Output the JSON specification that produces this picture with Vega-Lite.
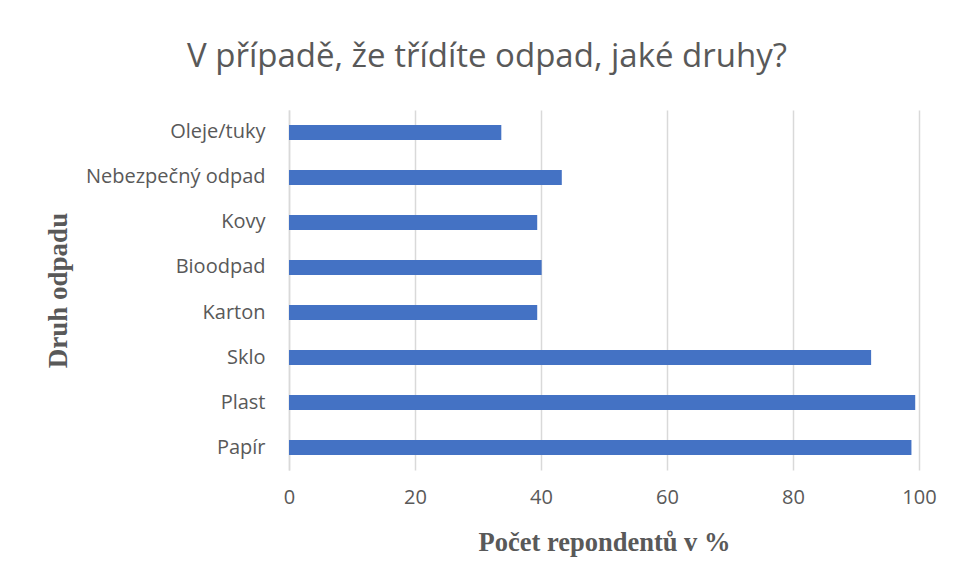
{
  "$schema": "https://vega.github.io/schema/vega-lite/v6.json",
  "width": 630,
  "height": 360,
  "autosize": {"type": "none"},
  "padding": {"left": 289, "top": 110, "right": 35, "bottom": 111},
  "background": "white",
  "title": {
    "text": "V případě, že třídíte odpad, jaké druhy?",
    "font": "Open Sans",
    "fontSize": 33,
    "fontWeight": "normal",
    "color": "#595959",
    "anchor": "middle",
    "dx": -117,
    "offset": 36
  },
  "data": {
    "values": [
      {"druh": "Oleje/tuky", "pct": 33.7},
      {"druh": "Nebezpečný odpad", "pct": 43.3},
      {"druh": "Kovy", "pct": 39.4},
      {"druh": "Bioodpad", "pct": 40.1},
      {"druh": "Karton", "pct": 39.4},
      {"druh": "Sklo", "pct": 92.4},
      {"druh": "Plast", "pct": 99.4},
      {"druh": "Papír", "pct": 98.8}
    ]
  },
  "mark": {"type": "bar", "color": "#4472C4"},
  "encoding": {
    "y": {
      "field": "druh",
      "type": "nominal",
      "sort": null,
      "scale": {"paddingInner": 0.667, "paddingOuter": 0.333},
      "axis": {
        "title": "Druh odpadu",
        "titleFont": "Liberation Serif",
        "titleFontSize": 27,
        "titleFontWeight": "bold",
        "titleColor": "#595959",
        "titleX": -231,
        "titleY": 180,
        "titleAlign": "center",
        "titleBaseline": "middle",
        "labelFont": "Open Sans",
        "labelFontSize": 20,
        "labelColor": "#595959",
        "labelPadding": 24,
        "ticks": false,
        "domain": true,
        "domainColor": "#d9d9d9",
        "domainWidth": 1.5,
        "grid": false
      }
    },
    "x": {
      "field": "pct",
      "type": "quantitative",
      "scale": {"domain": [0, 100], "nice": false},
      "axis": {
        "title": "Počet repondentů v %",
        "titleFont": "Liberation Serif",
        "titleFontSize": 26.5,
        "titleFontWeight": "bold",
        "titleColor": "#595959",
        "titlePadding": 22,
        "values": [0, 20, 40, 60, 80, 100],
        "labelFont": "Open Sans",
        "labelFontSize": 20,
        "labelColor": "#595959",
        "labelPadding": 17,
        "labelFlush": false,
        "ticks": false,
        "domain": false,
        "grid": true,
        "gridColor": "#d9d9d9",
        "gridWidth": 1.5
      }
    }
  },
  "config": {"view": {"stroke": null}}
}
